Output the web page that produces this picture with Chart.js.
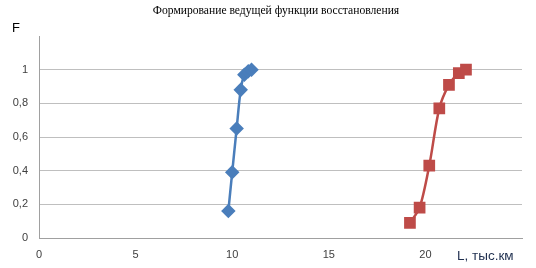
<!DOCTYPE html>
<html><head><meta charset="utf-8">
<script src="https://cdn.jsdelivr.net/npm/chart.js@4/dist/chart.umd.min.js"></script>
<style>html,body{margin:0;padding:0;background:#fff}#wrap{width:536px;height:268px}</style>
</head><body><div id="wrap"><canvas id="c" width="536" height="268"></canvas></div>
<script>
const titleText = 'Формирование ведущей функции восстановления';
const yAxisLabel = 'F';
const xAxisLabel = 'L, тыс.км';
const blueL = [9.8, 10.0, 10.23, 10.44, 10.63, 10.83, 11.0];
const blueF = [0.16, 0.39, 0.65, 0.88, 0.97, 0.99, 1.0];
const redL = [19.2, 19.7, 20.2, 20.72, 21.22, 21.73, 22.1];
const redF = [0.09, 0.18, 0.43, 0.77, 0.91, 0.98, 1.0];
const xTicks = [0, 5, 10, 15, 20, 25];
const yTicks = [0, 0.2, 0.4, 0.6, 0.8, 1, 1.2];

const toPts = (xs, ys) => xs.map((x, i) => ({x, y: ys[i]}));

const textPlugin = {
  id: 'texts',
  afterDraw(chart) {
    const ctx = chart.ctx;
    ctx.save();
    ctx.fillStyle = '#000';
    ctx.font = '11.6px "Liberation Serif", "Times New Roman", serif';
    ctx.textAlign = 'center';
    ctx.textBaseline = 'middle';
    ctx.fillText(titleText, 276, 11);
    ctx.font = '13px "Liberation Sans", Arial, sans-serif';
    ctx.textAlign = 'left';
    ctx.fillText(yAxisLabel, 12, 28);
    ctx.fillStyle = '#1F2F4F';
    ctx.font = '13.5px "Liberation Sans", Arial, sans-serif';
    ctx.fillText(xAxisLabel, 457, 256);
    ctx.restore();
  }
};

new Chart(document.getElementById('c'), {
  type: 'scatter',
  data: {
    datasets: [
      {data: toPts(blueL, blueF), showLine: true, borderColor: '#4A7EBB', backgroundColor: '#4A7EBB',
       borderWidth: 2.5, pointStyle: 'rectRot', pointRadius: 5.5, pointHoverRadius: 5.5, tension: 0.3},
      {data: toPts(redL, redF), showLine: true, borderColor: '#BE4B48', backgroundColor: '#BE4B48',
       borderWidth: 2.5, pointStyle: 'rect', pointRadius: 6.5, pointHoverRadius: 6.5, tension: 0.3}
    ]
  },
  options: {
    responsive: false,
    animation: false,
    layout: {padding: {top: 36, right: 14, left: 0, bottom: 0}},
    plugins: {legend: {display: false}, tooltip: {enabled: false}, title: {display: false}},
    scales: {
      x: {
        type: 'linear', min: 0, max: 25,
        afterBuildTicks: s => { s.ticks = xTicks.map(v => ({value: v})); },
        afterFit: s => { s.height = 30; },
        grid: {display: true, drawOnChartArea: false, drawTicks: false, color: '#A0A0A0'},
        border: {color: '#A0A0A0'},
        ticks: {padding: 10, color: '#404040', font: {family: '"Liberation Sans", Arial, sans-serif', size: 11},
                callback: v => v === 25 ? '' : String(v), maxRotation: 0}
      },
      y: {
        type: 'linear', min: 0, max: 1.2,
        afterBuildTicks: s => { s.ticks = yTicks.map(v => ({value: v})); },
        afterFit: s => { s.width = 39; },
        grid: {drawTicks: false, color: ctx => (ctx.tick && ctx.tick.value > 1.1) || (ctx.tick && ctx.tick.value === 0) ? 'rgba(0,0,0,0)' : '#BFBFBF'},
        border: {color: '#A0A0A0'},
        ticks: {padding: 11, color: '#404040', font: {family: '"Liberation Sans", Arial, sans-serif', size: 11},
                callback: v => v > 1.1 ? '' : (Number.isInteger(v) ? String(v) : v.toFixed(1).replace('.', ','))}
      }
    }
  },
  plugins: [textPlugin]
});
</script>
</body></html>
